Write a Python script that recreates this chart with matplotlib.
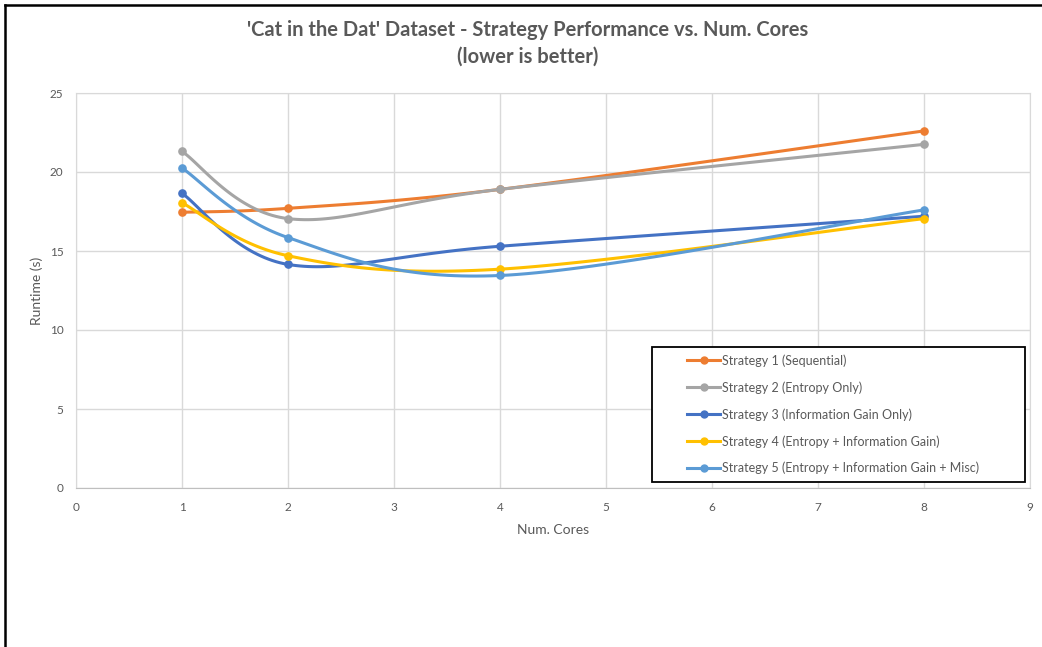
import numpy as np
import matplotlib.pyplot as plt
from matplotlib.patches import Rectangle
from matplotlib.lines import Line2D

plt.rcParams['font.family'] = ['Lato', 'DejaVu Sans']

# Runtime (s) by number of cores
cores = [1, 2, 4, 8]
strategy_1 = [17.45, 17.7, 18.9, 22.6]
strategy_2 = [21.3, 17.05, 18.9, 21.75]
strategy_3 = [18.65, 14.15, 15.3, 17.2]
strategy_4 = [18.05, 14.7, 13.85, 17.05]
strategy_5 = [20.25, 15.85, 13.45, 17.6]

labels = [
    "Strategy 1 (Sequential)",
    "Strategy 2 (Entropy Only)",
    "Strategy 3 (Information Gain Only)",
    "Strategy 4 (Entropy + Information Gain)",
    "Strategy 5 (Entropy + Information Gain + Misc)",
]
colors = ["#ED7D31", "#A5A5A5", "#4472C4", "#FFC000", "#5B9BD5"]
series = [strategy_1, strategy_2, strategy_3, strategy_4, strategy_5]


def smooth(xs, ys, n=40):
    # spreadsheet-style smoothed line: cubic bezier through each point
    pts = np.column_stack([xs, ys]).astype(float)
    padded = np.vstack([pts[0], pts, pts[-1]])
    t = np.linspace(0, 1, n)[:, None]
    out = []
    for i in range(len(pts) - 1):
        p0, p1 = padded[i + 1], padded[i + 2]
        c1 = p0 + (padded[i + 2] - padded[i]) / 6
        c2 = p1 - (padded[i + 3] - padded[i + 1]) / 6
        seg = ((1 - t) ** 3) * p0 + 3 * ((1 - t) ** 2) * t * c1 \
            + 3 * (1 - t) * t ** 2 * c2 + t ** 3 * p1
        out.append(seg)
    out = np.vstack(out)
    return out[:, 0], out[:, 1]


fig = plt.figure(figsize=(10.42, 6.47), dpi=100)
ax = fig.add_axes([76 / 1042, 1 - 488 / 647, 954 / 1042, 395 / 647])

for ys, color in zip(series, colors):
    sx, sy = smooth(cores, ys)
    ax.plot(sx, sy, color=color, lw=2.2, solid_capstyle="round")
    ax.plot(cores, ys, "o", color=color, ms=5.2)

ax.set_xlim(0, 9)
ax.set_ylim(0, 25)
ax.set_xticks(range(0, 10))
ax.set_yticks(range(0, 26, 5))
ax.grid(True, color="#D9D9D9", lw=1)
ax.set_axisbelow(True)
ax.tick_params(length=0, labelsize=8.5, colors="#595959")
ax.tick_params(axis="x", pad=10)
ax.tick_params(axis="y", pad=9)
for side in ["top", "right", "left"]:
    ax.spines[side].set_color("#D9D9D9")
ax.spines["bottom"].set_color("#BFBFBF")

ax.set_xlabel("Num. Cores", fontsize=10, color="#595959", labelpad=8)
ax.set_ylabel("Runtime (s)", fontsize=10, color="#595959", labelpad=5)

fig.text(528 / 1042, 1 - 30 / 647, "'Cat in the Dat' Dataset - Strategy Performance vs. Num. Cores",
         ha="center", va="center", fontsize=14.5, fontweight="bold", color="#595959")
fig.text(528 / 1042, 1 - 57 / 647, "(lower is better)",
         ha="center", va="center", fontsize=14.5, fontweight="bold", color="#595959")

# legend box
fig.add_artist(Rectangle((652 / 1042, 1 - 482 / 647), 373 / 1042, 135 / 647,
                         transform=fig.transFigure, facecolor="white",
                         edgecolor="black", lw=1.3, zorder=5))
handles = [Line2D([], [], color=c, lw=2.2, marker="o", ms=5) for c in colors]
leg = fig.legend(handles, labels, loc="upper left",
                 bbox_to_anchor=(676 / 1042, 1 - 343 / 647),
                 frameon=False, fontsize=9, labelcolor="#595959",
                 handlelength=2.6, handletextpad=0.2, labelspacing=1.15)
leg.set_zorder(6)

# outer frame on the left and top
fig.add_artist(Line2D([5 / 1042, 5 / 1042], [0, 1 - 5 / 647], color="black",
                      lw=1.8, transform=fig.transFigure))
fig.add_artist(Line2D([5 / 1042, 1], [1 - 5 / 647, 1 - 5 / 647], color="black",
                      lw=1.8, transform=fig.transFigure))

fig.savefig("out.png", dpi=100)
